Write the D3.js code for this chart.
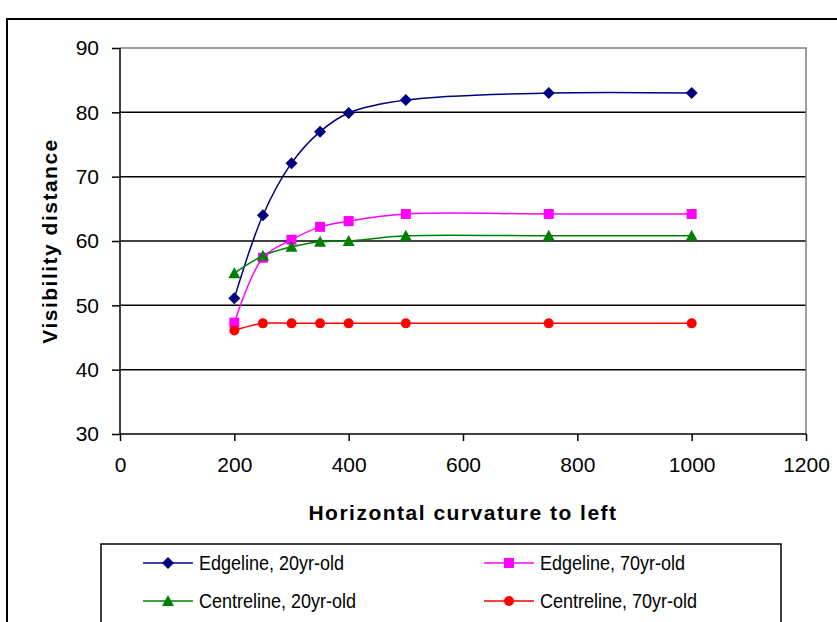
<!DOCTYPE html>
<html><head><meta charset="utf-8">
<script src="https://cdn.jsdelivr.net/npm/d3@7"></script>
<style>body{margin:0;background:#fff}svg{display:block}text{font-family:"Liberation Sans",Arial,sans-serif}</style>
</head><body><svg id="c" width="837" height="622"></svg>
<script>
const xValues = [200, 250, 300, 350, 400, 500, 750, 1000];
const edgeline20 = [51.1, 64, 72.1, 77, 79.9, 81.9, 83, 83];
const edgeline70 = [47.3, 57.4, 60.2, 62.2, 63.1, 64.2, 64.2, 64.2];
const centreline20 = [55, 57.7, 59.1, 59.9, 60, 60.8, 60.8, 60.8];
const centreline70 = [46.1, 47.2, 47.2, 47.2, 47.2, 47.2, 47.2, 47.2];
const seriesNames = ["Edgeline, 20yr-old", "Edgeline, 70yr-old", "Centreline, 20yr-old", "Centreline, 70yr-old"];
const seriesColors = ["#000080", "#FF00FF", "#008000", "#FF0000"];
const seriesMarkers = ["diamond", "square", "triangle", "circle"];
const xTicks = [0, 200, 400, 600, 800, 1000, 1200];
const yTicks = [30, 40, 50, 60, 70, 80, 90];
const xTitle = "Horizontal curvature to left";
const yTitle = "Visibility distance";

const svg = d3.select("#c");
const L = 120, R = 806, T = 48, B = 434;
const x = d3.scaleLinear().domain([0, 1200]).range([L, R]);
const y = d3.scaleLinear().domain([30, 90]).range([B, T]);

// outer border
svg.append("rect").attr("x", 7).attr("y", 19).attr("width", 840).attr("height", 610)
  .attr("fill", "none").attr("stroke", "#000").attr("stroke-width", 2);

// gridlines
svg.append("g").selectAll("line").data(yTicks.slice(1, -1)).join("line")
  .attr("x1", L).attr("x2", R).attr("y1", d => y(d)).attr("y2", d => y(d))
  .attr("stroke", "#000").attr("stroke-width", 1.5);
// plot border top/right gray
svg.append("path").attr("d", `M${L},${T}H${R}V${B}`).attr("fill", "none")
  .attr("stroke", "#808080").attr("stroke-width", 1.5);

// axes
const yAxis = d3.axisLeft(y).tickValues(yTicks).tickSize(8).tickPadding(13).tickFormat(d3.format("d"));
const gy = svg.append("g").attr("transform", `translate(${L},0)`).call(yAxis);
const xAxis = d3.axisBottom(x).tickValues(xTicks).tickSize(7).tickPadding(16).tickFormat(d3.format("d"));
const gx = svg.append("g").attr("transform", `translate(0,${B})`).call(xAxis);
[gy, gx].forEach(g => {
  g.select(".domain").attr("stroke", "#000").attr("stroke-width", 1.5);
  g.selectAll(".tick line").attr("stroke", "#000").attr("stroke-width", 1.5);
  g.selectAll("text").attr("font-size", 21).attr("fill", "#000").attr("font-family", "Liberation Sans, Arial, sans-serif");
});
gy.select(".domain").attr("d", `M0,${B}V${T}`);
gx.select(".domain").attr("d", `M${L},0H${R}`);

// titles
svg.append("text").attr("x", 463).attr("y", 520).attr("text-anchor", "middle")
  .attr("font-size", 21).attr("font-weight", "bold").attr("letter-spacing", 1.5).text(xTitle);
svg.append("text").attr("transform", `translate(57,${(T + B) / 2}) rotate(-90)`).attr("text-anchor", "middle")
  .attr("font-size", 21).attr("font-weight", "bold").attr("letter-spacing", 1.5).text(yTitle);

const allSeries = [edgeline20, edgeline70, centreline20, centreline70];

function marker(g, type, color) {
  if (type === "diamond") g.append("path").attr("d", "M0,-6L6,0L0,6L-6,0Z").attr("fill", color);
  else if (type === "square") g.append("rect").attr("x", -5).attr("y", -5).attr("width", 10).attr("height", 10).attr("fill", color);
  else if (type === "triangle") g.append("path").attr("d", "M0,-6L6,5L-6,5Z").attr("fill", color);
  else g.append("circle").attr("r", 5).attr("fill", color);
}

const line = d3.line().x(d => x(d[0])).y(d => y(d[1])).curve(d3.curveCatmullRom.alpha(0.5));
allSeries.forEach((vals, i) => {
  const pts = xValues.map((xv, j) => [xv, vals[j]]);
  svg.append("path").datum(pts).attr("d", line).attr("fill", "none")
    .attr("stroke", seriesColors[i]).attr("stroke-width", 1.5);
});
allSeries.forEach((vals, i) => {
  xValues.forEach((xv, j) => {
    const g = svg.append("g").attr("transform", `translate(${x(xv)},${y(vals[j])})`);
    marker(g, seriesMarkers[i], seriesColors[i]);
  });
});

// legend
svg.append("rect").attr("x", 101).attr("y", 544).attr("width", 680).attr("height", 90)
  .attr("fill", "#fff").attr("stroke", "#000").attr("stroke-width", 1.5);
const legPos = [[143, 563], [484, 563], [143, 601], [484, 601]];
seriesNames.forEach((name, i) => {
  const [lx, ly] = legPos[i];
  svg.append("line").attr("x1", lx).attr("x2", lx + 50).attr("y1", ly).attr("y2", ly)
    .attr("stroke", seriesColors[i]).attr("stroke-width", 1.5);
  const g = svg.append("g").attr("transform", `translate(${lx + 25},${ly})`);
  marker(g, seriesMarkers[i], seriesColors[i]);
  svg.append("text").attr("transform", `translate(${lx + 56},${ly + 7}) scale(0.9,1)`)
    .attr("font-size", 20).text(name);
});
</script></body></html>
